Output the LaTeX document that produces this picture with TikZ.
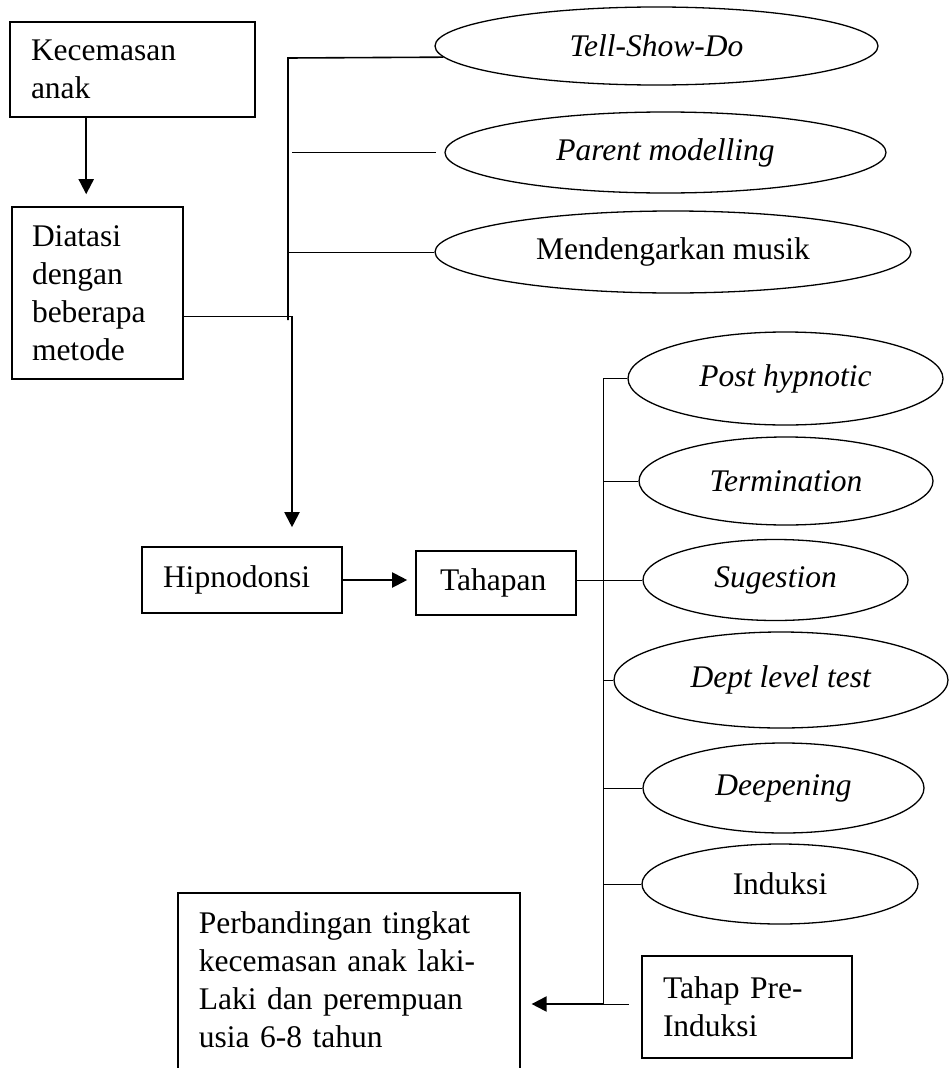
\documentclass[tikz,border=0pt]{standalone}
\usepackage{fontspec}
\setmainfont{Liberation Serif}
\usepackage{tikz}
\usetikzlibrary{shapes,shapes.geometric,arrows,arrows.meta,calc,positioning}

\begin{document}
\begin{tikzpicture}[x=1pt,y=-1pt,
	  every node/.style={font=\fontsize{31.5}{38}\selectfont,inner sep=0pt},
	  box/.style={draw,line width=1.6pt,align=left,inner ysep=0pt},
	  method/.style={draw,ellipse,line width=1.3pt,align=center},
	  flow/.style={-{Triangle[length=15pt,width=15pt]},line width=2pt},
	  bar/.style={line width=1.6pt},
	  link/.style={line width=0.9pt}]

	  \useasboundingbox (0,0) rectangle (949,1068);

	  % Boxes of the main line
	  \node[box,inner xsep=21pt,text width=203pt,minimum height=95pt] (kecemasan) at (132.5,69.5) {Kecemasan\\anak};
	  \node[box,inner xsep=20pt,text width=131pt,minimum height=172pt] (diatasi) at (97.5,293) {Diatasi\\dengan\\beberapa\\metode};
	  \node[box,inner xsep=21pt,text width=158pt,minimum height=66pt] (hipnodonsi) at (242,580) {Hipnodonsi};
	  \node[box,inner xsep=24pt,text width=112pt,minimum height=64pt] (tahapan) at (496,583) {Tahapan};
	  \node[box,inner xsep=21pt,text width=168pt,minimum height=102pt] (prainduksi) at (747,1007) {Tahap Pre-\\Induksi};
	  \node[box,anchor=north west,inner xsep=21pt,inner ysep=18.5pt,text width=300pt,text depth=164pt] (perbandingan) at (177,892) {Perbandingan tingkat\\kecemasan anak laki-\\Laki dan perempuan\\usia 6-8 tahun};

	  % Methods
	  \node[method,minimum width=443pt,minimum height=78pt] (tellshowdo) at (656.5,46) {\textit{Tell-Show-Do}};
	  \node[method,minimum width=441pt,minimum height=81pt] (parent) at (665.5,152.5) {\textit{Parent modelling}};
	  \node[method,minimum width=476pt,minimum height=82pt] (musik) at (673,252) {Mendengarkan musik};

	  % Stages
	  \node[method,minimum width=315pt,minimum height=93pt] (posthypnotic) at (785.5,378.5) {\textit{Post hypnotic}};
	  \node[method,minimum width=294pt,minimum height=88pt] (termination) at (786,481) {\textit{Termination}};
	  \node[method,minimum width=265pt,minimum height=81pt] (sugestion) at (775.5,580) {\textit{Sugestion}};
	  \node[method,minimum width=334pt,minimum height=96pt] (dept) at (781,680) {\textit{Dept level test}};
	  \node[method,minimum width=281pt,minimum height=90pt] (deepening) at (783.5,788) {\textit{Deepening}};
	  \node[method,minimum width=276pt,minimum height=80pt] (induksi) at (780,884) {Induksi};

	  \coordinate (mtop) at (288,58);
	  \coordinate (mbot) at (288,320);
	  \coordinate (hbend) at (292,316);
	  \coordinate (sbot) at (603,1004);

	  \draw[flow,shorten >=12pt] ([xshift=77pt]kecemasan.south west) -- ([xshift=75pt]diatasi.north west);
	  \draw[link] ([yshift=-23pt]diatasi.east) -- (hbend);
	  \draw[flow,shorten >=19pt] (hbend) -- (hbend |- hipnodonsi.north);
	  \draw[flow,shorten >=8pt] (hipnodonsi.east) -- (hipnodonsi.east -| tahapan.west);

	  % Bracket of the methods
	  \draw[bar] (mbot) -- (mtop) -- (tellshowdo.183);
	  \draw[link] (hbend |- parent.west) -- ([xshift=-8pt]parent.west);
	  \draw[link] (mtop |- musik.west) -- (musik.west);

	  % Bracket of the stages
	  \draw[link] (posthypnotic.west) -| (sbot) -- ([xshift=-12pt]sbot -| prainduksi.west);
	  \foreach \n in {termination,sugestion,dept,deepening,induksi}
	    \draw[link] (sbot |- \n.west) -- (\n.west);
	  \draw[link] (tahapan.east |- sugestion.west) -- (sugestion.west);
	  \draw[flow,shorten >=11pt] (sbot) -- (sbot -| perbandingan.east);
\end{tikzpicture}
\end{document}
